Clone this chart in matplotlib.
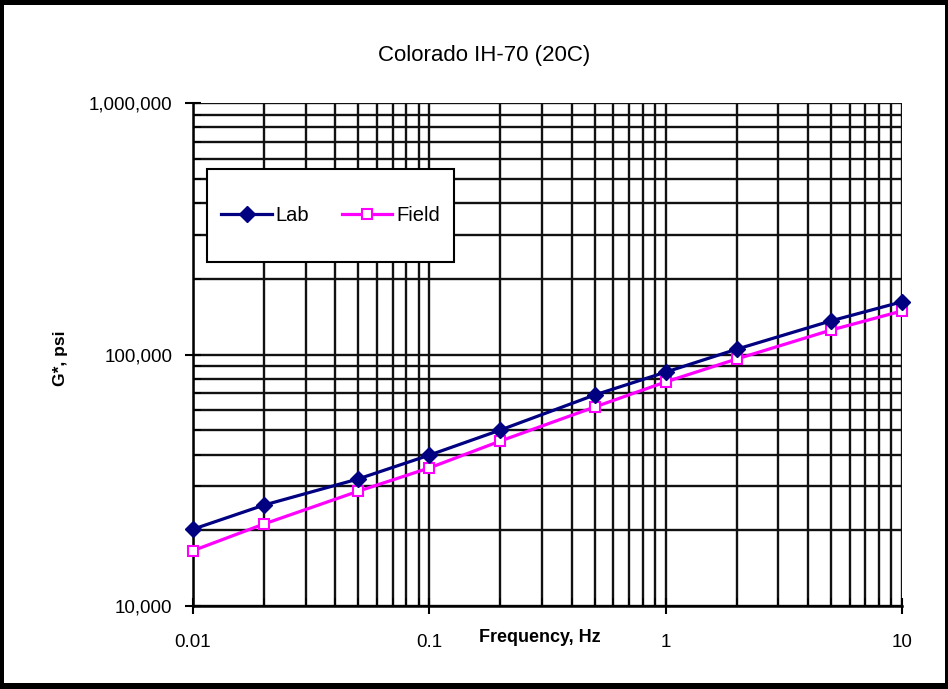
import matplotlib
matplotlib.use("Agg")
import matplotlib.pyplot as plt
from matplotlib.patches import Rectangle
from matplotlib.ticker import FixedLocator, FixedFormatter, LogLocator, NullFormatter

plt.rcParams['font.family'] = ['Liberation Sans', 'DejaVu Sans']

freq = [0.01, 0.02, 0.05, 0.1, 0.2, 0.5, 1, 2, 5, 10]
lab = [20200, 25200, 32000, 39800, 50100, 69000, 85100, 105000, 136000, 162000]
field = [16600, 21200, 28600, 35400, 45300, 61800, 77800, 96000, 125000, 149000]

xticks = [0.01, 0.1, 1, 10]
xticklabels = ["0.01", "0.1", "1", "10"]
yticks = [10000, 100000, 1000000]
yticklabels = ["10,000", "100,000", "1,000,000"]

W, H = 948, 689
fig = plt.figure(figsize=(W/100, H/100), dpi=100)
fig.patch.set_facecolor('black')
fig.patches.append(Rectangle((4/W, 1-683/H), (945-4)/W, (683-5)/H,
                             transform=fig.transFigure, facecolor='white',
                             edgecolor='none', zorder=-10))

L, R, T, B = 193, 902, 103, 606
ax = fig.add_axes([L/W, 1-B/H, (R-L)/W, (B-T)/H])
ax.set_facecolor('white')
ax.set_xscale('log')
ax.set_yscale('log')
ax.set_xlim(0.01, 10)
ax.set_ylim(10000, 1000000)

ax.plot(freq, lab, color='#000080', lw=2.3, marker='D', markersize=8,
        markerfacecolor='#000080', markeredgecolor='#000080', label='Lab', zorder=4, clip_on=False)
ax.plot(freq, field, color='#FF00FF', lw=2.3, marker='s', markersize=7,
        markerfacecolor='white', markeredgecolor='#FF00FF', markeredgewidth=1.5,
        label='Field', zorder=3, clip_on=False)

ax.xaxis.set_major_locator(FixedLocator(xticks))
ax.xaxis.set_major_formatter(FixedFormatter(xticklabels))
ax.yaxis.set_major_locator(FixedLocator(yticks))
ax.yaxis.set_major_formatter(FixedFormatter(yticklabels))
ax.xaxis.set_minor_locator(LogLocator(base=10, subs=range(2, 10)))
ax.yaxis.set_minor_locator(LogLocator(base=10, subs=range(2, 10)))
ax.xaxis.set_minor_formatter(NullFormatter())
ax.yaxis.set_minor_formatter(NullFormatter())

ax.grid(True, which='major', color='#111111', lw=1.7)
ax.grid(True, which='minor', color='#111111', lw=1.7)
ax.set_axisbelow(True)

ax.tick_params(which='major', direction='inout', length=12, width=1.5, labelsize=13.5)
ax.tick_params(axis='x', which='major', pad=14)
ax.tick_params(axis='y', which='major', pad=9)
ax.tick_params(which='minor', direction='in', length=6, width=1.2)
for s in ax.spines.values():
    s.set_visible(False)
ax.spines['left'].set_visible(True)
ax.spines['bottom'].set_visible(True)
ax.spines['left'].set_linewidth(1.8)
ax.spines['bottom'].set_linewidth(1.8)

fig.text(484/W, 1 - 55/H, "Colorado IH-70 (20C)", ha='center', va='center', fontsize=16)
fig.text(540/W, 1 - 637/H, "Frequency, Hz", ha='center', va='center', fontsize=13,
         fontweight='bold')
fig.text(61/W, 1 - 358/H, "G*, psi", ha='center', va='center', fontsize=12.5,
         fontweight='bold', rotation=90)

# legend box
bx0, bx1, by0, by1 = 207, 454, 169, 262
ax.add_patch(Rectangle(((bx0-L)/(R-L), 1-(by1-T)/(B-T)), (bx1-bx0)/(R-L), (by1-by0)/(B-T),
                       transform=ax.transAxes, facecolor='white', edgecolor='black',
                       lw=1.5, zorder=5))
leg = ax.legend(loc='center', bbox_to_anchor=(((bx0+bx1)/2-L)/(R-L), 1-((by0+by1)/2-T)/(B-T)),
                ncol=2, frameon=False, fontsize=14.5, handlelength=2.5,
                columnspacing=1.6, borderpad=0, handletextpad=0.2, borderaxespad=0)
leg.set_zorder(6)

fig.savefig('out.png', dpi=100, facecolor=fig.get_facecolor())
